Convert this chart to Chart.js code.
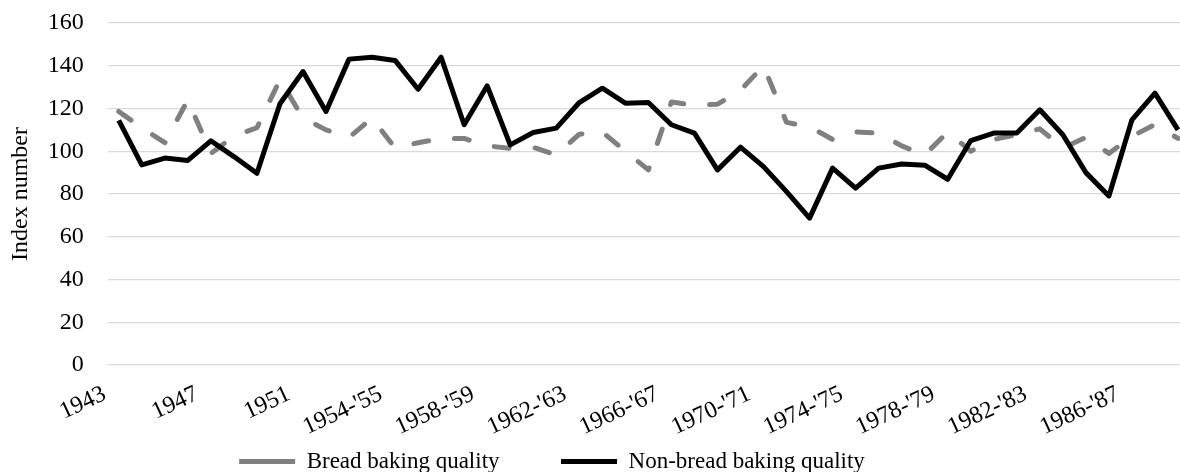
<!DOCTYPE html>
<html>
<head>
<meta charset="utf-8">
<script src="https://cdn.jsdelivr.net/npm/chart.js@4"></script>
<style>
  html, body { margin: 0; padding: 0; background: #fff; overflow: hidden; }
  #wrap { width: 1180px; height: 472px; position: relative; }
</style>
</head>
<body>
<div id="wrap"><canvas id="chart"></canvas></div>
<script>
// crop years, one entry per point
const categories = [
  '1943', '1944', '1945', '1946', '1947', '1948', '1949', '1950', '1951', '1952',
  "1952-'53", "1953-'54", "1954-'55", "1955-'56", "1956-'57", "1957-'58", "1958-'59",
  "1959-'60", "1960-'61", "1961-'62", "1962-'63", "1963-'64", "1964-'65", "1965-'66",
  "1966-'67", "1967-'68", "1968-'69", "1969-'70", "1970-'71", "1971-'72", "1972-'73",
  "1973-'74", "1974-'75", "1975-'76", "1976-'77", "1977-'78", "1978-'79", "1979-'80",
  "1980-'81", "1981-'82", "1982-'83", "1983-'84", "1984-'85", "1985-'86", "1986-'87",
  "1987-'88", "1988-'89"
];

const breadQuality = [
  118.6, 111, 104, 124, 99, 107, 111, 133.5, 115.5, 110,
  106.5, 115.5, 101.5, 104, 106, 106, 102.5, 101.4, 101.8, 98.3,
  108, 109, 100, 91.3, 123, 121.5, 122, 128.5, 140, 113.5,
  111.5, 105.5, 109, 108.5, 102.5, 98.3, 109, 100, 105.5, 107.7,
  110.5, 101.5, 106.5, 99, 107, 112.5, 106
];

const nonBreadQuality = [
  114.4, 93.6, 96.8, 95.7, 104.9, 97.5, 89.7, 122.2, 137.3, 118.6,
  143.1, 144, 142.5, 129, 144, 112.4, 130.6, 103, 108.8, 110.8,
  122.8, 129.5, 122.5, 122.8, 112.4, 108.5, 91.3, 101.9, 92.8, 81.1,
  68.7, 92.1, 82.7, 92.1, 94, 93.5, 86.9, 105, 108.5, 108.5,
  119.4, 107.7, 90, 79.1, 114.7, 127.2, 110
];

const yTicks = [0, 20, 40, 60, 80, 100, 120, 140, 160];
const labelEvery = 4;

const FONT = "'Liberation Serif', 'Times New Roman', serif";

const toPoints = (arr) => arr.map((v, i) => ({ x: i, y: v }));

// the legend sits a bit left of the canvas centre in the original
const legendShift = {
  id: 'legendShift',
  beforeDraw(chart) {
    const lg = chart.legend;
    if (lg) {
      lg.left -= 38;
      lg.right -= 38;
    }
  },
};

const ctx = document.getElementById('chart').getContext('2d');
new Chart(ctx, {
  type: 'line',
  data: {
    datasets: [
      {
        label: 'Bread baking quality',
        data: toPoints(breadQuality),
        borderColor: '#808080',
        borderWidth: 5,
        borderDash: [15, 26],
        borderCapStyle: 'round',
        borderJoinStyle: 'round',
        pointRadius: 0,
        pointStyle: 'line',
        tension: 0,
        order: 1,
      },
      {
        label: 'Non-bread baking quality',
        data: toPoints(nonBreadQuality),
        borderColor: '#000000',
        borderWidth: 5,
        borderCapStyle: 'butt',
        borderJoinStyle: 'round',
        pointRadius: 0,
        pointStyle: 'line',
        tension: 0,
        order: 0,
      },
    ],
  },
  options: {
    responsive: true,
    maintainAspectRatio: false,
    animation: false,
    layout: { padding: { left: 0, right: 0, top: 23, bottom: -11 } },
    scales: {
      x: {
        type: 'linear',
        min: -0.476,
        max: 46.087,
        afterBuildTicks: (scale) => {
          scale.ticks = categories
            .map((c, i) => i)
            .filter((i) => i % labelEvery === 0)
            .map((i) => ({ value: i }));
        },
        afterFit: (scale) => {
          scale.height = 81;
        },
        grid: { display: false },
        border: { display: false },
        ticks: {
          autoSkip: false,
          minRotation: 25,
          maxRotation: 25,
          labelOffset: -14,
          padding: 7,
          color: '#000',
          font: { family: FONT, size: 24 },
          callback: (v) => categories[v],
        },
      },
      y: {
        min: 0,
        max: 160,
        afterBuildTicks: (scale) => {
          scale.ticks = yTicks.map((v) => ({ value: v }));
        },
        grid: {
          color: '#d9d9d9',
          lineWidth: 1.3,
          drawTicks: true,
          tickLength: 20,
          tickColor: 'rgba(0,0,0,0)',
        },
        border: { display: false },
        ticks: {
          padding: 4,
          color: '#000',
          font: { family: FONT, size: 24 },
        },
        title: {
          display: true,
          text: 'Index number',
          color: '#000',
          font: { family: FONT, size: 24 },
          padding: { top: 6, bottom: 9 },
        },
      },
    },
    plugins: {
      legend: {
        position: 'bottom',
        reverse: true,
        labels: {
          usePointStyle: true,
          pointStyleWidth: 56,
          boxHeight: 6,
          padding: 4,
          color: '#000',
          font: { family: FONT, size: 23 },
          generateLabels: (chart) => {
            const items = Chart.defaults.plugins.legend.labels.generateLabels(chart);
            // extra room after the first entry, like the original spacing
            items.forEach((it) => {
              if (it.text === 'Bread baking quality') it.text += '          ';
            });
            return items;
          },
        },
      },
      tooltip: { enabled: false },
    },
  },
  plugins: [legendShift],
});
</script>
</body>
</html>
